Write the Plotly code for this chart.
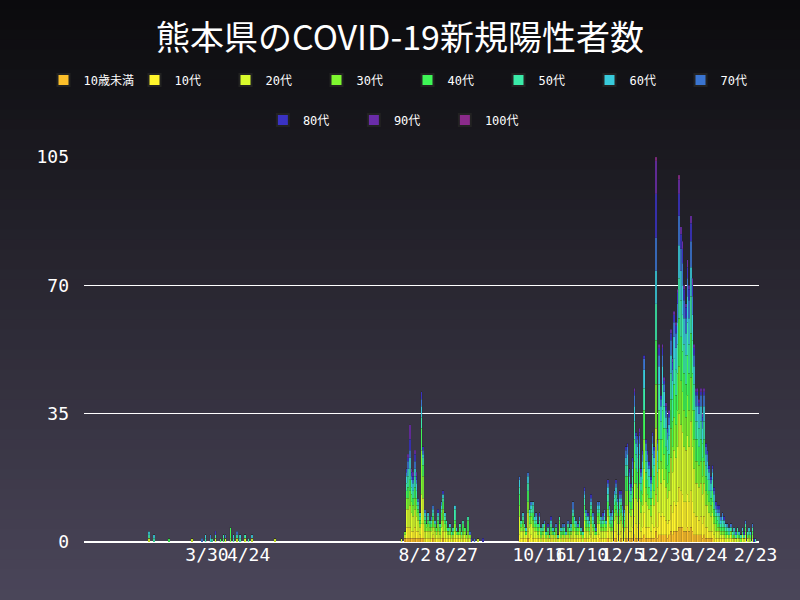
import pandas as pd
import plotly.graph_objects as go

groups = ["10歳未満", "10代", "20代", "30代", "40代", "50代", "60代", "70代", "80代", "90代", "100代"]
colors = ["#fcbf2a", "#fff52b", "#d9fb2c", "#7ef72f", "#3ef656", "#3aeaa8", "#38cadb",
          "#3a74d0", "#3a32c2", "#6a2ca8", "#8a2a8a"]

# first wave: sparse days
wave1_dates = ["2020-02-24", "2020-02-27", "2020-03-07", "2020-03-21", "2020-03-27", "2020-03-29",
               "2020-04-01", "2020-04-02", "2020-04-04", "2020-04-07", "2020-04-09", "2020-04-10",
               "2020-04-13", "2020-04-15", "2020-04-17", "2020-04-19", "2020-04-22", "2020-04-24",
               "2020-04-26", "2020-05-10"]
wave1 = {
    "20代": [1,0,0,1,0,0,0,0,1,0,0,1,0,0,1,0,1,0,1,1],
    "30代": [0,0,0,0,0,0,0,0,0,0,0,0,1,0,0,0,0,0,0,0],
    "40代": [0,0,1,0,0,0,0,0,0,1,1,0,3,0,0,0,0,0,0,0],
    "50代": [1,1,0,0,0,1,0,1,1,0,1,0,0,1,1,1,1,1,0,0],
    "60代": [1,1,0,0,0,1,1,0,0,0,0,0,0,1,0,1,0,0,1,0],
    "70代": [0,0,0,0,1,0,1,0,0,0,0,1,0,0,1,0,0,0,0,0],
    "80代": [0,0,0,0,0,0,0,0,1,0,0,0,0,0,0,0,0,0,0,0],
}

# second wave: daily from 2020-07-25
wave2_start = "2020-07-25"
wave2 = {
    "10歳未満": [0,0,1,1,1,1,1,1,1,1, 1,1,1,1,0,0,0,0,0,1, 0,0,0,0,0,1,0,0,0,0,
                 0,0,0,0,0,0,0,0,0,0, 0,0,0,0,0,0,0,0,0,0],
    "10代": [0,0,0,3,3,3,2,2,3,2, 2,1,4,4,1,1,1,1,1,1, 1,1,1,1,1,2,1,1,1,1,
             0,1,1,1,1,1,0,1,1,0, 1,0,0,0,0,0,0,0,0,0],
    "20代": [1,0,1,5,5,6,5,4,5,4, 3,2,8,7,2,2,2,2,2,2, 2,1,2,1,3,3,2,2,1,1,
             1,1,2,1,1,1,1,1,1,1, 1,1,0,0,0,0,1,0,0,0],
    "30代": [0,0,1,3,3,4,3,3,3,3, 2,1,12,6,2,1,2,1,1,2, 1,1,2,1,2,3,2,1,1,1,
             1,0,2,1,0,1,1,1,1,1, 1,1,0,0,0,0,0,0,0,0],
    "40代": [0,0,0,2,3,3,2,2,3,2, 1,1,6,3,1,1,1,1,1,1, 1,1,1,1,2,2,1,1,0,1,
             0,1,1,0,1,1,0,2,1,0, 3,0,0,0,0,0,0,0,0,0],
    "50代": [0,0,0,2,3,3,2,2,3,2, 1,1,3,2,1,0,1,1,1,1, 0,0,1,1,1,1,1,1,1,0,
             1,1,3,0,0,1,1,1,0,0, 1,0,0,0,0,0,0,0,0,0],
    "60代": [0,0,0,2,2,3,2,2,2,2, 1,1,3,1,1,0,1,0,0,1, 1,0,1,0,1,1,1,0,0,1,
             0,0,1,1,0,0,0,0,0,0, 0,0,0,0,0,0,0,0,0,0],
    "70代": [0,0,0,1,2,2,1,1,2,1, 1,0,2,1,1,0,0,0,1,1, 0,0,0,0,1,0,0,0,0,0,
             0,0,0,0,0,0,0,0,0,0, 0,1,0,0,1,0,0,0,0,0],
    "80代": [0,0,0,1,1,3,1,1,2,1, 0,0,2,1,0,0,0,0,0,0, 0,0,1,0,0,1,0,0,0,0,
             0,0,0,0,0,0,0,0,0,0, 0,0,1,0,0,0,0,0,0,1],
    "90代": [0,0,0,0,1,4,1,1,1,1, 0,0,0,0,0,0,0,0,0,0, 0,0,0,0,0,0,0,0,0,0,
             0,0,0,0,0,0,0,0,0,0, 0,0,0,0,0,0,0,0,0,0],
}

# third wave: daily from 2020-10-04
wave3_start = "2020-10-04"
wave3 = {
    "10歳未満": [0,0,0,0,0,1,0,0,0,0, 0,0,0,0,0,0,0,0,0,0, 0,0,0,0,0,0,0,0,0,0,
                 0,0,0,0,0,0,0,0,0,1, 0,0,0,0,0,0,0,0,1,0, 0,0,0,1,0,0,0,1,1,0,
                 0,1,0,0,1,1,1,1,1,2, 1,1,1,1,1,2,1,1,1,1, 1,1,3,1,2,2,2,2,2,1,
                 2,3,2,3,3,3,4,4,4,3, 3,4,3,4,3,2,2,2,2,2, 1,2,1,1,1,1,1,0,0,0,
                 0,0,0,0,0,0,0,0,0,0, 0,0,0,0,0,0,0,0,0,0, 0,0,0],
    "10代": [2,1,1,1,1,2,1,2,1,1, 1,1,1,0,1,1,0,1,0,1, 1,0,1,0,1,0,1,0,1,1,
             0,1,1,1,1,1,1,1,0,2, 1,1,1,2,1,1,1,2,1,1, 1,1,1,2,1,1,1,2,2,2,
             2,2,1,1,3,3,2,2,3,5, 4,3,4,2,3,6,3,3,3,2, 4,3,10,3,6,5,6,5,4,4,
             4,7,6,8,7,8,11,10,9,8, 8,9,8,10,8,6,5,5,4,5, 4,5,3,3,2,2,2,2,1,1,
             1,1,1,1,0,1,0,1,0,1, 0,0,0,0,1,0,1,0,0,0, 0,0,0],
    "20代": [5,2,2,2,1,5,3,3,3,2, 2,1,2,1,1,2,1,1,1,1, 1,1,1,1,2,1,1,1,1,1,
             1,1,2,2,1,1,2,1,1,3, 2,2,1,3,2,1,1,3,3,2, 2,2,2,4,3,2,2,3,4,3,
             3,3,3,2,6,6,5,4,5,9, 7,7,7,5,6,12,7,6,5,4, 7,6,18,7,12,9,12,10,9,7,
             8,13,11,14,13,15,20,18,17,15, 14,16,15,19,15,12,9,9,9,9, 8,9,6,6,5,4,5,3,2,2,
             2,1,1,1,1,1,1,1,1,0, 1,1,1,0,1,1,1,1,1,0, 1,0,0],
    "30代": [3,1,2,1,0,3,1,2,2,1, 1,1,1,1,1,1,1,0,0,1, 0,1,1,0,2,1,0,1,0,1,
             1,1,2,1,1,1,1,0,1,2, 1,1,1,2,1,1,0,2,1,1, 1,2,1,2,1,1,1,2,2,2,
             2,2,1,1,4,4,3,2,3,6, 4,4,4,3,3,8,4,3,3,3, 4,4,12,4,8,6,8,7,5,4,
             5,8,7,9,9,10,13,12,11,10, 9,11,10,12,10,8,6,6,6,6, 5,6,4,3,3,3,3,2,2,1,
             1,1,1,1,1,0,1,1,0,1, 0,1,0,1,0,0,1,0,1,1, 1,0,0],
    "40代": [3,1,1,0,1,3,2,1,2,1, 1,1,1,1,0,1,0,1,1,1, 1,0,1,0,1,1,1,1,0,1,
             1,0,2,1,1,1,1,1,0,2, 2,1,1,2,1,1,1,1,2,1, 1,1,1,2,2,1,2,2,2,1,
             2,2,2,2,4,4,3,2,3,6, 4,4,4,3,4,8,4,4,3,2, 4,4,12,4,8,6,8,7,6,5,
             5,8,7,9,8,10,13,12,11,10, 9,11,10,12,10,8,6,6,5,6, 5,6,4,4,3,2,3,2,2,2,
             1,1,1,1,1,1,0,0,1,0, 0,1,1,0,1,0,1,1,0,1, 1,0,0],
    "50代": [2,1,1,1,0,2,1,1,2,1, 1,1,1,1,1,0,1,1,0,1, 0,1,0,1,1,0,1,1,0,1,
             1,1,1,1,1,0,1,0,1,2, 1,1,1,1,1,1,0,1,1,1, 1,1,0,2,1,1,1,2,2,2,
             2,1,1,1,3,3,2,2,3,5, 4,4,4,2,3,6,3,3,3,2, 4,3,10,3,7,5,7,6,5,4,
             5,7,6,7,7,8,11,10,10,8, 8,9,8,10,9,7,5,5,5,5, 4,5,3,3,3,2,3,2,1,1,
             2,1,2,1,1,1,1,1,1,1, 1,1,0,1,0,1,1,1,1,0, 1,0,1],
    "60代": [2,0,1,0,1,2,1,1,1,1, 1,0,1,0,1,0,0,0,0,1, 1,0,0,0,0,1,0,0,1,0,
             0,1,1,1,1,0,0,1,0,1, 1,1,1,1,1,0,0,1,1,1, 0,1,1,2,1,1,1,1,2,1,
             1,1,1,1,2,3,2,1,2,4, 3,3,3,2,2,5,3,2,2,2, 3,2,9,3,5,4,5,4,3,3,
             3,5,5,6,6,6,9,8,8,7, 6,7,7,8,7,5,4,4,4,4, 4,4,3,2,2,2,2,2,1,1,
             1,1,1,1,1,0,1,0,0,1, 0,0,1,0,1,0,0,0,1,1, 0,0,0],
    "70代": [1,0,0,0,0,1,0,1,0,0, 1,0,0,0,0,1,0,0,0,0, 0,0,1,0,0,0,1,1,0,1,
             0,0,2,0,0,1,1,0,0,1, 1,0,0,1,1,0,1,1,1,0, 1,1,0,1,1,1,1,1,1,1,
             1,1,1,1,2,2,1,1,2,3, 2,2,2,1,2,3,2,2,1,1, 2,2,9,2,3,2,3,2,2,2,
             2,4,3,4,4,5,8,6,6,5, 4,5,5,7,5,3,3,3,2,3, 2,3,2,2,1,1,1,1,1,1,
             1,1,1,0,0,1,0,1,0,0, 1,0,0,0,0,0,1,0,0,0, 1,0,0],
    "80代": [0,0,0,0,0,0,0,0,0,0, 0,0,1,0,0,0,0,1,0,1, 0,0,0,0,0,0,0,0,0,0,
             0,0,0,0,0,0,0,0,0,1, 0,1,0,1,0,0,0,0,0,0, 1,0,0,1,0,0,0,0,1,0,
             1,1,0,0,1,1,1,1,1,1, 1,1,1,1,1,1,1,1,1,1, 1,1,12,1,2,1,2,1,1,1,
             1,2,2,2,2,3,6,4,4,3, 3,3,3,5,3,2,1,1,1,1, 1,1,1,1,1,1,1,1,1,1,
             1,0,0,1,0,0,0,0,0,0, 0,0,0,0,0,1,0,0,0,0, 0,1,0],
    "90代": [0,0,0,0,0,0,0,0,0,0, 0,0,0,0,0,0,0,0,0,0, 0,0,0,0,0,0,0,0,0,0,
             0,0,0,0,0,0,0,0,0,0, 0,0,0,0,0,0,0,0,0,0, 0,0,0,0,0,0,0,0,0,0,
             0,0,0,0,0,0,0,0,0,1, 0,0,1,0,0,0,0,0,0,0, 0,0,9,0,1,0,1,1,1,0,
             1,1,1,1,1,1,4,2,2,1, 1,2,1,2,2,1,1,1,1,1, 1,1,0,0,0,0,0,0,0,0,
             0,0,0,0,0,0,0,0,0,0, 0,0,0,0,0,0,0,0,0,0, 0,0,0],
    "100代": [0,0,0,0,0,0,0,0,0,0, 0,0,0,0,0,0,0,0,0,0, 0,0,0,0,0,0,0,0,0,0,
              0,0,0,0,0,0,0,0,0,0, 0,0,0,0,0,0,0,0,0,0, 0,0,0,0,0,0,0,0,0,0,
              0,0,0,0,0,0,0,0,0,0, 0,0,0,0,0,0,0,0,0,0, 0,0,1,0,0,0,0,0,0,0,
              0,0,0,0,0,0,1,0,0,0, 0,0,0,0,0,0,0,0,0,0, 0,0,0,0,0,0,0,0,0,0,
              0,0,0,0,0,0,0,0,0,0, 0,0,0,0,0,0,0,0,0,0, 0,0,0],
}

tick_dates = ["2020-03-30", "2020-04-24", "2020-08-02", "2020-08-27", "2020-10-16",
              "2020-11-10", "2020-12-05", "2020-12-30", "2021-01-24", "2021-02-23"]
tick_labels = ["3/30", "4/24", "8/2", "8/27", "10/16", "11/10", "12/5", "12/30", "1/24", "2/23"]

fig = go.Figure()
for i, (g, c) in enumerate(zip(groups, colors)):
    xs, ys = [], []
    if g in wave1:
        xs += list(pd.to_datetime(wave1_dates))
        ys += wave1[g]
    if g in wave2:
        xs += list(pd.date_range(wave2_start, periods=len(wave2[g])))
        ys += wave2[g]
    xs += list(pd.date_range(wave3_start, periods=len(wave3[g])))
    ys += wave3[g]
    fig.add_trace(go.Bar(x=xs, y=ys, name=g, marker_color=c,
                         marker_line=dict(color="#222222", width=0.15),
                         legend="legend" if i < 8 else "legend2"))

# vertical gradient background via thin strips
top, bottom = (10, 10, 12), (75, 70, 90)
n = 60
y0p, y1p = -58 / 385, 542 / 385
for i in range(n):
    t = (i + 0.5) / n
    col = tuple(round(top[k] + (bottom[k] - top[k]) * t) for k in range(3))
    ya = y1p - (y1p - y0p) * i / n
    yb = y1p - (y1p - y0p) * (i + 1) / n
    fig.add_shape(type="rect", xref="paper", yref="paper", x0=-0.2, x1=1.2,
                  y0=yb, y1=ya + 0.002, fillcolor="rgb(%d,%d,%d)" % col,
                  line_width=0, layer="below")

mono = "DejaVu Sans Mono, Noto Sans CJK JP"
leg = dict(orientation="h", xanchor="left", yanchor="middle", entrywidth=46,
           font=dict(family=mono, size=12, color="white"), traceorder="normal",
           bgcolor="rgba(0,0,0,0)", itemsizing="constant")
fig.update_layout(
    width=800, height=600,
    barmode="stack", bargap=0.05,
    paper_bgcolor="#0a0a0c", plot_bgcolor="rgba(0,0,0,0)",
    margin=dict(l=84, r=41, t=157, b=58),
    title=dict(text="熊本県のCOVID-19新規陽性者数", x=0.5, y=0.937, xanchor="center",
               yanchor="middle", font=dict(family="Noto Sans CJK JP", size=34, color="white")),
    legend=dict(leg, x=-0.06, y=1.2),
    legend2=dict(leg, x=0.265, y=1.096),
    font=dict(family=mono, color="white"),
)
fig.update_xaxes(type="date", range=["2020-01-16", "2021-02-25"], tickangle=0,
                 tickvals=tick_dates, ticktext=tick_labels, showgrid=False,
                 tickfont=dict(size=18, color="white"), ticks="")
fig.update_yaxes(range=[0, 105], tickvals=[0, 35, 70, 105], showgrid=True,
                 gridcolor="white", gridwidth=1, zeroline=True, zerolinecolor="white",
                 zerolinewidth=1.5, tickfont=dict(size=18, color="white"), ticklabelstandoff=14)

fig.write_html("out.html", config={"displayModeBar": False},
               post_script="document.body.style.margin='0';")
